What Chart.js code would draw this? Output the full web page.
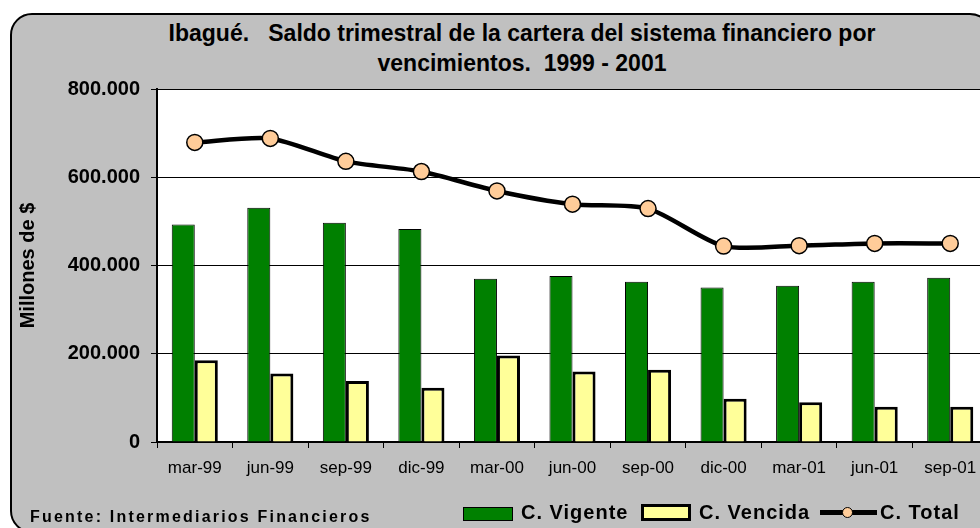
<!DOCTYPE html>
<html>
<head>
<meta charset="utf-8">
<script src="https://cdn.jsdelivr.net/npm/chart.js@4.4.1/dist/chart.umd.min.js"></script>
<style>
    html, body { margin: 0; padding: 0; background: #ffffff; overflow: hidden; }
    #wrap { position: relative; width: 980px; height: 528px; overflow: hidden; font-family: "Liberation Sans", Arial, sans-serif; }
    #panel {
        position: absolute; left: 10px; top: 13px; width: 982px; height: 520px;
        background: #c0c0c0; border: 2px solid #000; border-radius: 22px; box-sizing: border-box;
    }
    #chartBox { position: absolute; left: 0; top: 0; }
    .title {
        position: absolute; left: 122px; width: 800px; text-align: center;
        font-weight: bold; font-size: 23px; color: #000; line-height: 30px;
    }
    #fuente {
        position: absolute; left: 30px; top: 507px; font-weight: bold; font-size: 16px;
        letter-spacing: 2.2px; color: #000; line-height: 20px;
    }
    .leg-text { position: absolute; top: 500px; font-weight: bold; font-size: 20px; letter-spacing: 1px; line-height: 24px; color: #000; }
    .leg-box { position: absolute; box-sizing: border-box; border: 1px solid #000; }
</style>
</head>
<body>
<div id="wrap">
    <div id="panel"></div>
    <div class="title" style="top: 18px;">Ibagué.&nbsp;&nbsp; Saldo trimestral de la cartera del sistema financiero por</div>
    <div class="title" style="top: 48px;">vencimientos.&nbsp; 1999 - 2001</div>
    <canvas id="chartBox" width="1000" height="528"></canvas>
    <div id="fuente">Fuente: Intermediarios Financieros</div>

    <div class="leg-box" style="left: 463px; top: 507px; width: 50px; height: 14px; background: #008000;"></div>
    <div class="leg-text" style="left: 521px;">C. Vigente</div>
    <div class="leg-box" style="left: 641px; top: 504px; width: 50px; height: 17px; background: #ffff99; border-width: 3px;"></div>
    <div class="leg-text" style="left: 699px;">C. Vencida</div>
    <div class="leg-box" style="left: 820px; top: 510px; width: 57px; height: 5px; background: #000; border: none;"></div>
    <div class="leg-box" style="left: 842px; top: 507px; width: 11px; height: 11px; background: #ffcc99; border-radius: 50%;"></div>
    <div class="leg-text" style="left: 880px;">C. Total</div>
</div>

<script>
const categories = ['mar-99', 'jun-99', 'sep-99', 'dic-99', 'mar-00', 'jun-00', 'sep-00', 'dic-00', 'mar-01', 'jun-01', 'sep-01'];
const vigente = [493000, 531000, 497000, 483000, 370000, 376000, 363000, 350000, 354000, 363000, 372000];
const vencida = [185000, 155000, 138000, 123000, 196000, 160000, 164000, 98000, 90000, 80000, 80000];
const total = [679000, 688000, 636000, 613000, 569000, 539000, 529000, 444000, 445000, 450000, 450000];
const yTicks = [0, 200000, 400000, 600000, 800000];

function formatMiles(v) {
    return String(v).replace(/\B(?=(\d{3})+(?!\d))/g, '.');
}

// white background only inside the plot area
const plotBackground = {
    id: 'plotBackground',
    beforeDraw(chart) {
        const { ctx, chartArea } = chart;
        ctx.save();
        ctx.fillStyle = '#ffffff';
        ctx.fillRect(chartArea.left, chartArea.top, chartArea.right - chartArea.left, chartArea.bottom - chartArea.top);
        ctx.restore();
    }
};

const ctx = document.getElementById('chartBox').getContext('2d');
new Chart(ctx, {
    type: 'bar',
    data: {
        labels: categories,
        datasets: [
            {
                type: 'line',
                label: 'C. Total',
                data: total,
                borderColor: '#000000',
                borderWidth: 4.5,
                tension: 0.25,
                pointRadius: 8,
                pointBackgroundColor: '#ffcc99',
                pointBorderColor: '#000000',
                pointBorderWidth: 1.5,
                order: 0
            },
            {
                label: 'C. Vigente',
                data: vigente,
                backgroundColor: '#008000',
                borderColor: '#000000',
                borderWidth: 1,
                order: 1
            },
            {
                label: 'C. Vencida',
                data: vencida,
                backgroundColor: '#ffff99',
                borderColor: '#000000',
                borderWidth: 3,
                order: 1
            }
        ]
    },
    options: {
        responsive: false,
        animation: false,
        datasets: {
            bar: { categoryPercentage: 0.61, barPercentage: 1.0 }
        },
        layout: { padding: { left: 10, top: 89, right: 12, bottom: 0 } },
        plugins: {
            legend: { display: false },
            title: { display: false },
            tooltip: { enabled: false }
        },
        scales: {
            x: {
                offset: true,
                grid: { drawOnChartArea: false, drawTicks: true, tickLength: 6, color: '#000000', offset: true },
                border: { color: '#000000', width: 2 },
                ticks: {
                    color: '#000000',
                    padding: 10,
                    maxRotation: 0,
                    font: { family: '"Liberation Sans", Arial, sans-serif', size: 17 }
                },
                afterFit(scale) { scale.height = 86; }
            },
            y: {
                min: 0,
                max: 800000,
                afterBuildTicks(scale) { scale.ticks = yTicks.map(v => ({ value: v })); },
                grid: { color: '#000000', lineWidth: 1, tickLength: 6 },
                border: { color: '#000000', width: 2 },
                ticks: {
                    color: '#000000',
                    padding: 11,
                    font: { family: '"Liberation Sans", Arial, sans-serif', size: 20, weight: 'bold' },
                    callback: v => formatMiles(v)
                },
                title: {
                    display: true,
                    text: 'Millones de $',
                    color: '#000000',
                    padding: { top: 6, bottom: 0 },
                    font: { family: '"Liberation Sans", Arial, sans-serif', size: 20, weight: 'bold' }
                },
                afterFit(scale) { scale.width = 147; }
            }
        }
    },
    plugins: [plotBackground]
});
</script>
</body>
</html>
